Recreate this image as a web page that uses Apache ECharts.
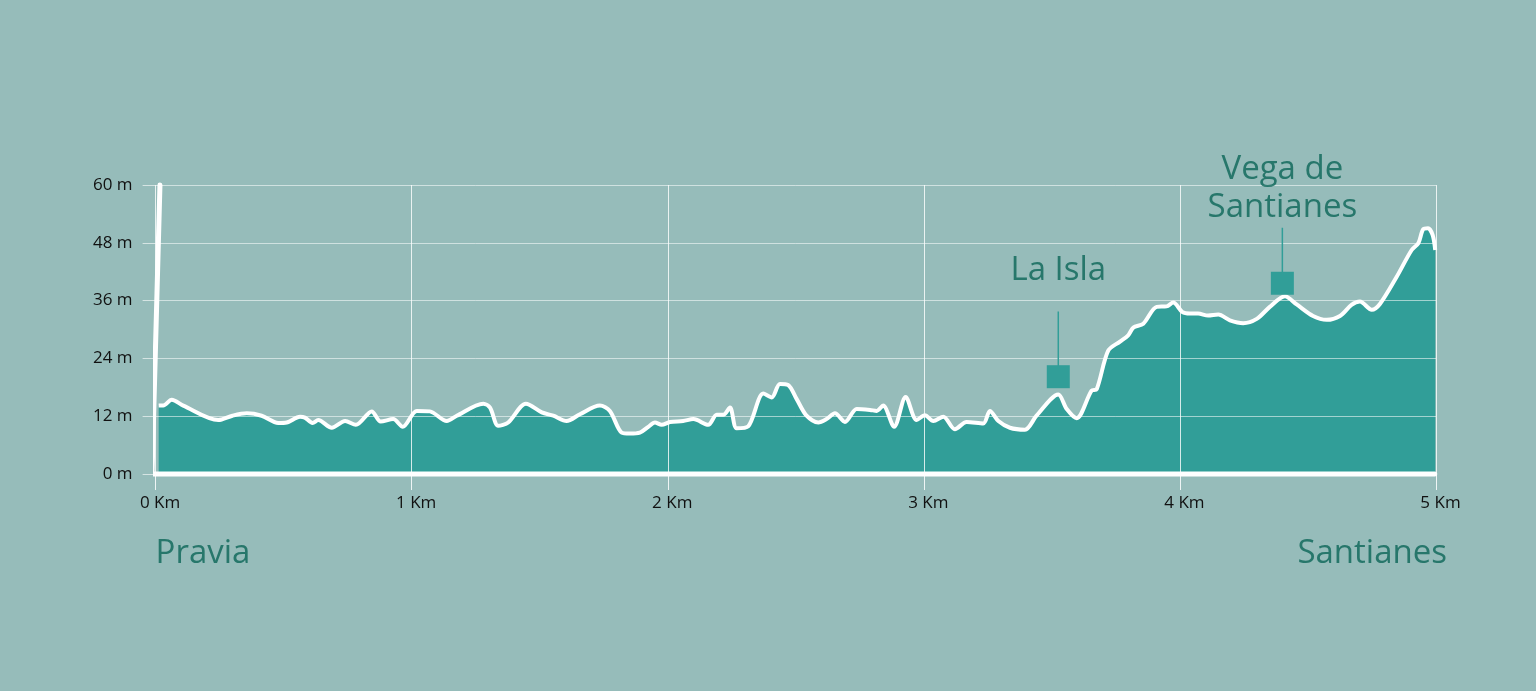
<!DOCTYPE html>
<html>
<head>
<meta charset="utf-8">
<title>Pravia - Santianes</title>
<script src="https://cdn.jsdelivr.net/npm/echarts@6/dist/echarts.min.js"></script>
<style>
  html, body { margin: 0; padding: 0; background: #96bcba; }
  #chart { width: 1536px; height: 691px; }
</style>
</head>
<body>
<div id="chart"></div>
<script>
// elevation profile (km along the route, metres)
const profileKm = [0.012, 0.030, 0.063, 0.108, 0.245, 0.300, 0.356, 0.414, 0.479, 0.512,
  0.564, 0.583, 0.613, 0.635, 0.688, 0.740, 0.782, 0.844, 0.879, 0.928,
  0.965, 1.020, 1.071, 1.137, 1.176, 1.280, 1.306, 1.338, 1.377, 1.446,
  1.508, 1.553, 1.605, 1.657, 1.735, 1.774, 1.820, 1.852, 1.891, 1.924,
  1.950, 1.976, 2.009, 2.060, 2.100, 2.158, 2.191, 2.217, 2.243, 2.269,
  2.314, 2.373, 2.406, 2.438, 2.470, 2.503, 2.542, 2.588, 2.620, 2.653,
  2.692, 2.738, 2.790, 2.816, 2.841, 2.884, 2.929, 2.972, 3.004, 3.037,
  3.076, 3.121, 3.167, 3.232, 3.258, 3.291, 3.336, 3.395, 3.440, 3.525,
  3.558, 3.597, 3.655, 3.675, 3.720, 3.766, 3.798, 3.818, 3.857, 3.909,
  3.948, 3.974, 4.010, 4.039, 4.071, 4.110, 4.150, 4.195, 4.247, 4.300,
  4.351, 4.410, 4.456, 4.520, 4.573, 4.625, 4.670, 4.703, 4.749, 4.781,
  4.846, 4.905, 4.931, 4.950, 4.969, 4.987, 4.997];
const profileM = [14.2, 14.2, 15.4, 14.2, 11.2, 12.1, 12.6, 12.1, 10.6, 10.7,
  11.9, 11.7, 10.6, 11.2, 9.6, 11.0, 10.2, 13.0, 10.9, 11.4,
  9.8, 13.1, 13.0, 11.0, 12.1, 14.6, 13.8, 10.0, 10.7, 14.6,
  12.8, 12.1, 11.0, 12.4, 14.2, 13.1, 8.6, 8.4, 8.6, 9.8,
  10.7, 10.2, 10.8, 11.0, 11.4, 10.2, 12.3, 12.3, 13.8, 9.5,
  9.9, 16.7, 15.9, 18.7, 18.5, 15.6, 12.1, 10.7, 11.4, 12.6,
  10.8, 13.5, 13.3, 13.1, 14.2, 9.8, 16.0, 11.2, 12.2, 11.0,
  11.9, 9.3, 10.8, 10.5, 13.1, 11.0, 9.6, 9.2, 12.1, 16.5,
  13.5, 11.6, 17.3, 17.6, 25.6, 27.5, 28.8, 30.4, 31.2, 34.7,
  34.8, 35.6, 33.6, 33.3, 33.3, 32.9, 33.1, 31.9, 31.3, 32.2,
  34.7, 36.9, 35.2, 32.8, 32.0, 32.8, 35.1, 35.8, 34.1, 35.3,
  40.9, 46.5, 47.9, 50.8, 51.0, 49.6, 46.5];

// frame drawn as a thick white stroke (left edge up to 60 m, then the base)
const frameKm = [0.017, -0.014, 4.995];
const frameM = [60, 0, 0];

// places on the route with a pin
const pinNames = ['La Isla', 'Vega de\nSantianes'];
const pinKm = [3.525, 4.40];
const pinSquareM = [20.2, 39.6];
const pinTopM = [33.75, 51.1];
const pinLabelM = [42.3, 59.2];

// start and end of the route, under the axis
const places = ['Pravia', 'Santianes'];
const placeKm = [0, 5.043];
const placeM = [-16.6, -16.6];

const xTicks = [0, 5, 1]; // min, max, step
const yTicks = [0, 60, 12];

const fillColor = '#319e98';
const textColor = '#0b6558';
const labelFont = 'Open Sans';

const profile = profileKm.map((k, i) => [k, profileM[i]]);
const frame = frameKm.map((k, i) => [k, frameM[i]]);

const pinLines = pinKm.map((k, i) => ({
  type: 'line',
  z: 6,
  silent: true,
  symbol: 'none',
  lineStyle: { color: fillColor, width: 1.5 },
  data: [[k, pinSquareM[i]], [k, pinTopM[i]]]
}));

const chart = echarts.init(document.getElementById('chart'));
chart.setOption({
  backgroundColor: '#96bcba',
  animation: false,
  grid: { left: 155.6, right: 100, top: 185, bottom: 217 },
  xAxis: {
    type: 'value',
    min: xTicks[0],
    max: xTicks[1],
    interval: xTicks[2],
    z: 3,
    axisLine: { show: false },
    axisTick: { show: true, length: 16, lineStyle: { color: 'rgba(255,255,255,0.85)', width: 1 } },
    axisLabel: {
      formatter: '{value} Km',
      color: '#111',
      fontFamily: labelFont,
      fontSize: 17,
      margin: 21,
      padding: [0, 0, 0, 9]
    },
    splitLine: { lineStyle: { color: 'rgba(255,255,255,0.8)', width: 1 } }
  },
  yAxis: {
    type: 'value',
    min: yTicks[0],
    max: yTicks[1],
    interval: yTicks[2],
    z: 3,
    axisLine: { show: false },
    axisTick: { show: true, length: 13, lineStyle: { color: 'rgba(255,255,255,0.6)', width: 1 } },
    axisLabel: {
      formatter: '{value} m',
      color: '#111',
      fontFamily: labelFont,
      fontSize: 17,
      margin: 23
    },
    splitLine: { lineStyle: { color: 'rgba(255,255,255,0.55)', width: 1 } }
  },
  series: [
    {
      name: 'fill',
      type: 'line',
      z: 1,
      silent: true,
      smooth: 0.3,
      symbol: 'none',
      lineStyle: { width: 0 },
      areaStyle: { color: fillColor, opacity: 1 },
      data: profile
    },
    {
      name: 'perfil',
      type: 'line',
      z: 5,
      silent: true,
      smooth: 0.3,
      symbol: 'none',
      lineStyle: { color: '#fff', width: 4 },
      data: profile
    },
    {
      name: 'frame',
      type: 'line',
      z: 5,
      clip: false,
      silent: true,
      symbol: 'none',
      lineStyle: { color: '#fff', width: 5, cap: 'round', join: 'round' },
      data: frame
    },
    ...pinLines,
    {
      name: 'pins',
      type: 'scatter',
      z: 6,
      silent: true,
      symbol: 'rect',
      symbolSize: 23,
      itemStyle: { color: fillColor, opacity: 1 },
      data: pinKm.map((k, i) => [k, pinSquareM[i]])
    },
    {
      name: 'pinLabels',
      type: 'scatter',
      z: 7,
      silent: true,
      clip: false,
      symbolSize: 0,
      label: {
        show: true,
        position: 'inside',
        formatter: p => pinNames[p.dataIndex],
        color: textColor,
        fontFamily: labelFont,
        fontSize: 33,
        lineHeight: 37.6,
        align: 'center'
      },
      data: pinKm.map((k, i) => [k, pinLabelM[i]])
    },
    {
      name: 'places',
      type: 'scatter',
      z: 7,
      silent: true,
      clip: false,
      symbolSize: 0,
      label: {
        show: true,
        formatter: p => places[p.dataIndex],
        color: textColor,
        fontFamily: labelFont,
        fontSize: 33,
        distance: 0
      },
      data: placeKm.map((k, i) => ({
        value: [k, placeM[i]],
        label: { position: i === 0 ? 'right' : 'left' }
      }))
    }
  ]
});
</script>
</body>
</html>
